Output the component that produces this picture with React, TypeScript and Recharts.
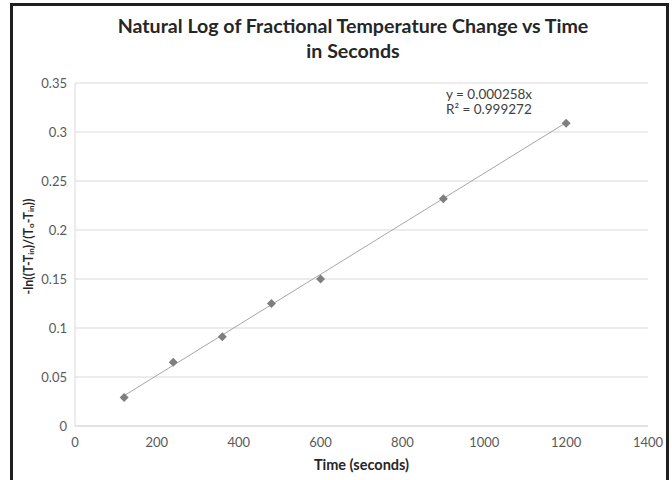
import React from 'react';
import { ScatterChart, Scatter, XAxis, YAxis, CartesianGrid, ReferenceLine } from 'recharts';

// time in seconds and -ln((T-Tin)/(T0-Tin))
const times = [120, 240, 360, 480, 600, 900, 1200];
const logValues = [0.029, 0.065, 0.091, 0.125, 0.15, 0.232, 0.309];
const xTicks = [0, 200, 400, 600, 800, 1000, 1200, 1400];
const yTicks = [0, 0.05, 0.1, 0.15, 0.2, 0.25, 0.3, 0.35];
const slope = 0.000258;
const equationLines = ['y = 0.000258x', 'R\u00b2 = 0.999272'];

const points = times.map((t, i) => ({ t, v: logValues[i] }));
const trendStart = times[0];
const trendEnd = times[times.length - 1];

const font = 'Lato, "Open Sans", sans-serif';

const Diamond = (props: any) => {
    const { cx, cy } = props;
    const r = 4.5;
    return <path d={`M${cx},${cy - r}L${cx + r},${cy}L${cx},${cy + r}L${cx - r},${cy}Z`} fill="#7f7f7f" />;
};

const YLabel = (props: any) => {
    const vb = props.viewBox || {};
    const cx = 28;
    const cy = (vb.y || 0) + (vb.height || 0) / 2 - 8;
    return (
        <text
            x={cx}
            y={cy}
            transform={`rotate(-90, ${cx}, ${cy})`}
            textAnchor="middle"
            dominantBaseline="central"
            fontFamily={font}
            fontWeight={700}
            fontSize={12.5}
            fill="#262626"
        >
            <tspan>-ln((T-T</tspan>
            <tspan fontSize={8} dy={3}>in</tspan>
            <tspan dy={-3}>)/(T</tspan>
            <tspan fontSize={8} dy={3}>o</tspan>
            <tspan dy={-3}>-T</tspan>
            <tspan fontSize={8} dy={3}>in</tspan>
            <tspan dy={-3}>))</tspan>
        </text>
    );
};

export default function App() {
    return (
        <div style={{ position: 'fixed', left: 0, top: 0, width: 672, height: 480, background: '#fff', overflow: 'hidden' }}>
            <div
                style={{
                    position: 'absolute',
                    left: 10,
                    top: 3,
                    width: 653,
                    height: 490,
                    border: '3px solid #1f1f1f',
                }}
            />
            <div
                style={{
                    position: 'absolute',
                    left: 0,
                    top: 13,
                    width: 706,
                    textAlign: 'center',
                    fontFamily: font,
                    fontWeight: 700,
                    fontSize: 19.6,
                    lineHeight: '25px',
                    color: '#262626',
                }}
            >
                Natural Log of Fractional Temperature Change vs Time
                <br />
                in Seconds
            </div>
            <div
                style={{
                    position: 'absolute',
                    left: 446,
                    top: 87,
                    fontFamily: font,
                    fontSize: 13.5,
                    lineHeight: '15px',
                    color: '#404040',
                }}
            >
                {equationLines.map((l) => (
                    <div key={l}>{l}</div>
                ))}
            </div>
            <div style={{ position: 'absolute', left: 0, top: 0 }}>
                <ScatterChart width={672} height={480} margin={{ top: 83, right: 24, bottom: 24, left: 0 }}>
                    <CartesianGrid vertical={false} stroke="#d9d9d9" />
                    <XAxis
                        type="number"
                        dataKey="t"
                        domain={[0, 1400]}
                        ticks={xTicks}
                        height={30}
                        stroke="#d9d9d9"
                        tickLine={false}
                        tickMargin={6}
                        tick={{ fill: '#595959', fontSize: 13, fontFamily: font }}
                        label={{
                            value: 'Time (seconds)',
                            position: 'insideBottom',
                            offset: -14,
                            fill: '#262626',
                            fontSize: 14.5,
                            fontWeight: 700,
                            fontFamily: font,
                        }}
                    />
                    <YAxis
                        type="number"
                        dataKey="v"
                        domain={[0, 0.35]}
                        ticks={yTicks}
                        width={75}
                        stroke="#d9d9d9"
                        tickLine={false}
                        tick={{ fill: '#595959', fontSize: 13, fontFamily: font }}
                        label={<YLabel />}
                    />
                    <ReferenceLine
                        segment={[
                            { x: trendStart, y: slope * trendStart },
                            { x: trendEnd, y: slope * trendEnd },
                        ]}
                        stroke="#a6a6a6"
                        strokeWidth={1}
                    />
                    <Scatter data={points} shape={<Diamond />} isAnimationActive={false} />
                </ScatterChart>
            </div>
        </div>
    );
}
